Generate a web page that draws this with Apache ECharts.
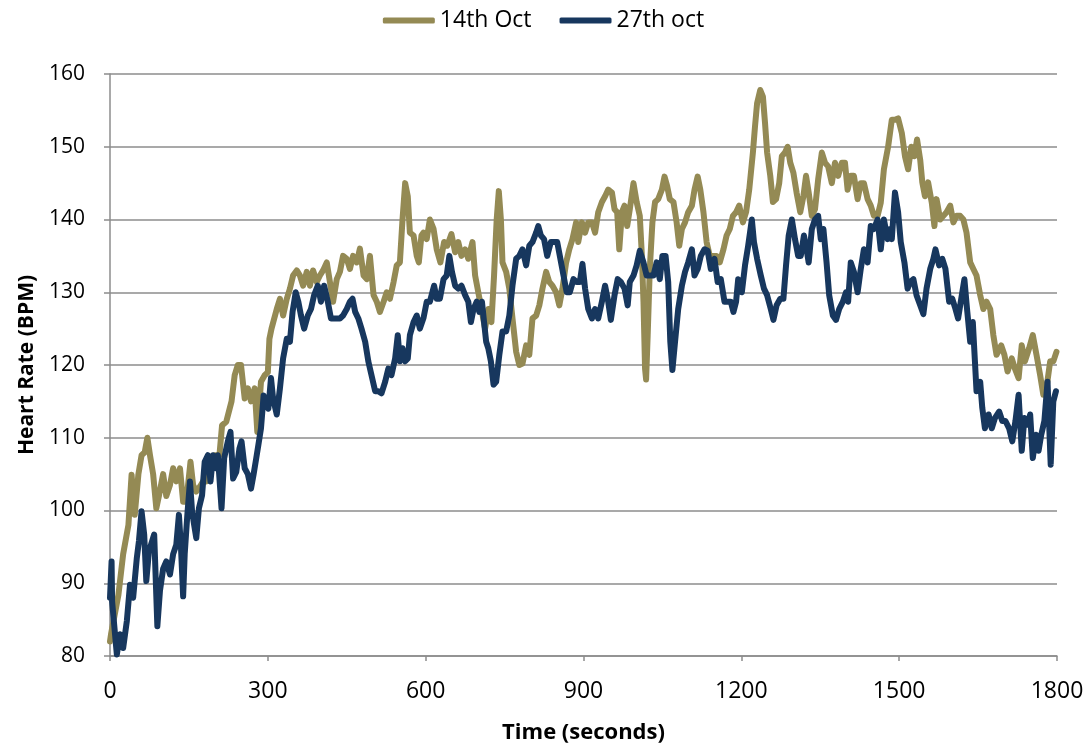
<!DOCTYPE html>
<html><head><meta charset="utf-8">
<script src="https://cdn.jsdelivr.net/npm/echarts@6/dist/echarts.min.js"></script>
<style>html,body{margin:0;padding:0;background:#fff}#c{width:1087px;height:749px}</style>
</head><body><div id="c"></div>
<script>
const seriesNames = ['14th Oct', '27th oct'];
const xTickValues = [0, 300, 600, 900, 1200, 1500, 1800];
const yTickValues = [80, 90, 100, 110, 120, 130, 140, 150, 160];

// [time (s), heart rate (BPM)]
const oct14 = [[0,82],[2,83],[16,88.4],[25,94],[35,98],[41,104.9],[47,99.4],[54,105],[60,107.6],[66,108],[71,110],[76,107.6],[82,105],[88,100.3],[93,102],[101,105],[107,102],[114,103.5],[120,105.8],[126,104],[133,105.8],[139,101.2],[145,101.2],[153,106.7],[158,103.5],[164,102.6],[171,103.3],[177,104],[183,104],[193,105.8],[199,107.6],[208,107.6],[213,111.7],[221,112.2],[231,115],[237,118.6],[243,120],[249,120],[256,115.4],[262,116.8],[268,115],[275,116.8],[280,110.8],[287,117.7],[294,118.6],[300,119],[303,123.6],[307,125],[317,127.7],[323,129.1],[329,126.8],[336,129.1],[342,130.5],[348,132.3],[355,133],[361,132.3],[367,130.9],[374,132.8],[380,130.9],[386,133],[393,131.4],[399,132.3],[405,133],[412,134.1],[418,131.4],[424,128.7],[431,131.8],[437,132.8],[443,135],[450,134.6],[456,133.2],[462,135],[469,134.1],[475,136],[482,132.3],[488,131.8],[494,135],[501,129.6],[507,128.7],[513,127.3],[520,128.7],[526,130],[532,129.1],[539,131.4],[545,133.7],[551,134.1],[556,140],[561,145],[566,143.2],[570,138.2],[577,137.8],[583,135],[587,134.1],[592,137.8],[596,138.2],[602,137.3],[608,140],[615,138.7],[621,135.9],[628,134.1],[635,136.9],[641,136.4],[649,138],[656,135.5],[662,136.9],[668,135],[675,135.9],[681,134.6],[689,136.9],[694,132.3],[700,130],[706,127.7],[713,125],[719,127.7],[725,125.9],[730,132.3],[735,140],[739,143.9],[743,140],[746,134.1],[753,132.8],[759,130.5],[765,126.4],[772,121.8],[778,120],[784,120.2],[791,122.7],[797,121.4],[803,126.4],[810,126.8],[816,128.2],[822,130.5],[829,132.8],[835,131.4],[841,130.9],[848,130],[854,128.2],[860,130.5],[867,134.1],[873,135.9],[879,137.3],[886,139.6],[890,136.9],[897,139.6],[903,138.2],[909,139.6],[916,139.6],[922,138.2],[928,141],[935,142.4],[941,143.2],[947,144.1],[954,143.7],[959,141.4],[964,141],[968,135.9],[973,141],[978,141.9],[983,139.1],[988,141.4],[995,145],[1001,142.4],[1007,140.5],[1011,135],[1014,128.7],[1017,119.5],[1019,118],[1022,124.1],[1026,133.2],[1031,139.6],[1036,142.4],[1042,142.8],[1049,144.1],[1054,145.9],[1059,144.6],[1064,142.8],[1071,142.4],[1077,139.6],[1082,136.4],[1087,138.7],[1093,139.6],[1099,141],[1106,141.9],[1111,144.1],[1117,145.9],[1122,144.1],[1128,141],[1134,136.9],[1140,135],[1147,135],[1153,135],[1159,134.1],[1166,135.9],[1172,137.8],[1178,138.7],[1184,140.5],[1190,141],[1196,141.9],[1203,139.6],[1209,141],[1215,144.1],[1222,149.2],[1226,152.8],[1230,156],[1236,157.8],[1241,156.9],[1245,153.3],[1249,149.2],[1255,146],[1260,142.4],[1266,142.8],[1272,145],[1277,148.7],[1283,149.2],[1288,150],[1293,147.8],[1299,146.4],[1305,143.7],[1312,141],[1318,143.2],[1323,146],[1328,143.7],[1334,140.5],[1340,141.4],[1346,145.5],[1353,149.2],[1359,147.8],[1365,147.3],[1372,145],[1378,147.8],[1384,146],[1391,147.8],[1397,147.8],[1402,144.1],[1408,146],[1414,146],[1421,142.8],[1427,145],[1433,145],[1440,142.8],[1446,141.9],[1452,140.5],[1459,140.5],[1465,142.3],[1471,146.9],[1479,150],[1486,153.7],[1492,153.7],[1498,153.9],[1505,151.9],[1511,148.7],[1517,146.9],[1523,150],[1529,148.7],[1534,151],[1540,148.2],[1544,145.1],[1549,143.2],[1555,145.1],[1562,142.3],[1567,139.1],[1571,142.8],[1578,140],[1584,140.5],[1590,141],[1597,141.9],[1603,139.6],[1609,140.5],[1616,140.5],[1622,140],[1628,138.2],[1635,134.1],[1641,133.2],[1647,132.3],[1654,129.6],[1660,127.7],[1666,128.7],[1673,127.7],[1679,124.1],[1685,121.4],[1694,122.7],[1700,121.4],[1706,119.1],[1714,120.9],[1720,119.5],[1727,118.2],[1733,122.7],[1739,120.5],[1747,122.3],[1754,124.1],[1761,121.4],[1768,118.6],[1774,115.9],[1780,116.8],[1787,120.5],[1793,120.5],[1799,121.8]];

const oct27 = [[0,88],[3,93],[4,87.5],[13,80.2],[19,83],[25,81.1],[32,84.8],[38,89.8],[44,88],[51,93.5],[55,95.8],[60,99.9],[65,96.7],[69,90.3],[74,94.4],[78,95.3],[84,96.7],[90,84.1],[95,89],[101,92],[107,93],[114,91.2],[120,94],[126,95.3],[131,99.4],[135,94.8],[139,88.2],[142,94],[147,99.4],[152,104],[156,99.9],[160,98],[164,96.2],[169,100.3],[175,102.1],[180,106.7],[186,107.6],[191,104],[196,107.6],[201,105.8],[205,107.6],[212,100.3],[217,107.2],[224,109.5],[229,110.8],[234,104.4],[240,105.3],[246,108.5],[250,109.5],[256,105.8],[262,105],[268,103],[273,105],[278,107.2],[282,109],[287,111.3],[292,115.8],[297,114.5],[301,114],[306,118.2],[310,115.4],[317,113.2],[323,116.8],[329,120.9],[336,123.6],[342,123.2],[347,127.3],[353,130],[358,128.7],[363,126.8],[369,125],[376,126.8],[382,127.7],[388,129.6],[395,130.9],[401,128.7],[407,130.9],[414,128.7],[420,126.4],[428,126.4],[437,126.4],[443,126.8],[450,127.7],[456,128.7],[461,129.1],[466,127.3],[472,126.4],[478,125],[485,123.2],[491,120.5],[497,118.6],[504,116.4],[510,116.4],[516,116.1],[523,117.7],[529,119.5],[535,118.6],[542,120.9],[547,124.1],[551,120.5],[556,122.3],[561,120.5],[566,120.9],[570,124.1],[577,125.9],[583,126.8],[589,125],[596,126.5],[602,128.7],[608,128.7],[616,130.9],[621,129.1],[627,129.1],[634,131.8],[640,132.3],[645,135],[650,132.8],[656,130.9],[662,130.5],[668,130.9],[675,129.6],[681,128.7],[686,125.9],[691,127.7],[697,128.7],[702,127.3],[707,128.7],[711,125.9],[715,123.2],[719,122.3],[724,120.5],[729,117.3],[734,117.7],[740,121.4],[746,124.6],[753,124.6],[759,126.8],[765,130.9],[772,134.6],[778,135],[784,135.9],[791,133.7],[797,136.4],[803,136.9],[810,138.2],[814,139.1],[819,137.8],[825,137.3],[831,135],[838,136.9],[844,136.9],[850,136.9],[855,135],[862,132.3],[868,130],[874,130],[881,131.8],[887,131.4],[893,131.4],[898,133.9],[903,130.5],[909,127.7],[916,126.4],[922,127.7],[928,126.4],[935,128.7],[941,130.9],[947,128.7],[952,126.2],[959,129.6],[965,131.8],[971,131.4],[978,130.5],[984,128.2],[988,131.4],[995,132.3],[1001,133.7],[1007,135.7],[1014,134.1],[1020,132.3],[1026,132.3],[1033,132.3],[1039,134.1],[1045,131.8],[1050,135],[1056,135],[1061,131.4],[1065,123.2],[1069,119.3],[1074,123.2],[1080,127.7],[1087,130.9],[1093,132.8],[1099,134.1],[1106,135.9],[1111,132.3],[1117,133.2],[1123,135],[1130,135.9],[1136,135.7],[1142,133.2],[1149,134.6],[1155,131.4],[1161,131.8],[1168,128.7],[1174,128.7],[1180,128.7],[1185,127.3],[1190,128.7],[1194,131.8],[1201,130],[1207,133.7],[1213,136.4],[1220,140],[1224,136.9],[1230,134.6],[1237,132.3],[1243,130.5],[1249,129.6],[1256,127.7],[1261,126.2],[1267,128.2],[1274,129.1],[1280,129.1],[1285,133.7],[1290,137.8],[1296,140],[1302,137.3],[1308,135],[1313,135],[1319,137.8],[1324,135.9],[1328,134.1],[1334,138.7],[1340,140],[1346,140.5],[1351,137.3],[1356,138.7],[1362,134.1],[1367,129.6],[1374,126.8],[1380,126.2],[1386,127.7],[1393,128.7],[1399,130],[1403,128.7],[1408,134.1],[1414,132.8],[1421,130],[1427,133.2],[1433,135.9],[1440,134.1],[1446,139.1],[1452,138.7],[1459,140],[1465,135.9],[1471,140],[1478,137.3],[1483,138.7],[1486,137.3],[1492,143.7],[1498,141],[1503,136.9],[1510,134.1],[1516,130.5],[1521,131.4],[1527,131.8],[1533,129.6],[1540,128.2],[1546,127],[1552,130.5],[1559,133.2],[1565,134.6],[1569,135.9],[1576,133.7],[1582,134.6],[1588,133.2],[1595,128.7],[1601,129.1],[1607,127.7],[1612,126.4],[1618,129.1],[1624,131.8],[1629,127.7],[1635,123.2],[1640,125.9],[1644,120.5],[1647,116.4],[1654,117.7],[1658,114.1],[1663,111.3],[1670,113.2],[1676,111.3],[1682,112.7],[1690,113.6],[1696,112.3],[1702,112.3],[1709,111.3],[1715,109.5],[1721,112.3],[1727,115.9],[1733,108.2],[1738,112.7],[1744,111.8],[1749,113.2],[1754,107.2],[1760,110.4],[1765,108.2],[1770,110.4],[1776,112.3],[1782,117.7],[1788,106.3],[1793,115],[1798,116.4]];

const FONT = 'Open Sans';
const chart = echarts.init(document.getElementById('c'), null, {renderer: 'canvas'});
chart.setOption({
  animation: false,
  backgroundColor: '#ffffff',
  textStyle: {fontFamily: FONT, color: '#000'},
  color: ['#948A54', '#17375E'],
  legend: {
    data: seriesNames,
    top: 4,
    left: 'center',
    icon: 'roundRect',
    itemWidth: 52,
    itemHeight: 6,
    itemGap: 28,
    textStyle: {fontFamily: FONT, fontSize: 23, color: '#000'}
  },
  grid: {left: 110, right: 30, top: 74, bottom: 91, containLabel: false},
  xAxis: {
    type: 'value', min: xTickValues[0], max: xTickValues[xTickValues.length - 1], interval: 300,
    name: 'Time (seconds)', nameLocation: 'middle', nameGap: 66,
    nameTextStyle: {fontFamily: FONT, fontWeight: 'bold', fontSize: 22, color: '#000'},
    axisLine: {show: true, lineStyle: {color: '#8c8c8c', width: 1.5}},
    axisTick: {show: true, length: 5, lineStyle: {color: '#8c8c8c', width: 1.5}},
    axisLabel: {fontSize: 23, color: '#000', margin: 24, fontFamily: FONT,
      formatter: function (v) { return String(v); }},
    splitLine: {show: false}
  },
  yAxis: {
    type: 'value', min: yTickValues[0], max: yTickValues[yTickValues.length - 1], interval: 10,
    name: 'Heart Rate (BPM)', nameLocation: 'middle', nameGap: 72, nameRotate: 90,
    nameTextStyle: {fontFamily: FONT, fontWeight: 'bold', fontSize: 21, color: '#000'},
    axisLine: {show: true, lineStyle: {color: '#8c8c8c', width: 1.5}},
    axisTick: {show: true, length: 6, lineStyle: {color: '#8c8c8c', width: 1.5}},
    axisLabel: {fontSize: 21, color: '#000', margin: 25, fontFamily: FONT},
    splitLine: {show: true, lineStyle: {color: '#8c8c8c', width: 1.5}}
  },
  series: [
    {name: seriesNames[0], type: 'line', data: oct14, showSymbol: false, symbol: 'none',
     lineStyle: {width: 6, color: '#948A54', join: 'round', cap: 'round'}, z: 2},
    {name: seriesNames[1], type: 'line', data: oct27, showSymbol: false, symbol: 'none',
     lineStyle: {width: 6, color: '#17375E', join: 'round', cap: 'round'}, z: 3}
  ]
});
</script></body></html>
